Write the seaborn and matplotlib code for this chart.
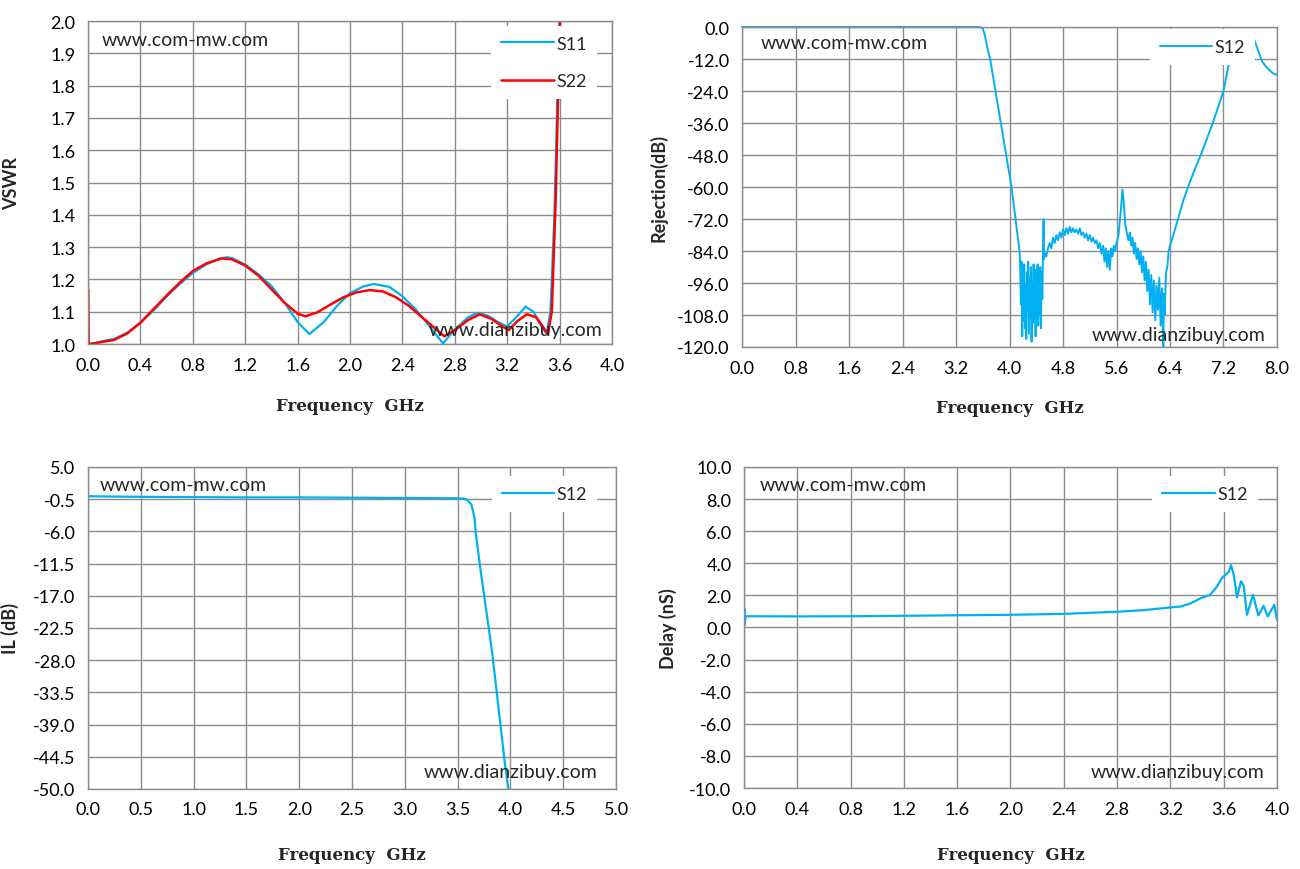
import numpy as np
import pandas as pd
import matplotlib
matplotlib.use("Agg")
import matplotlib.pyplot as plt
import seaborn as sns

# ---- VSWR (S11 / S22) ----
s11_f = [0.0, 0.05, 0.1, 0.2, 0.3, 0.4, 0.5, 0.6, 0.7, 0.8, 0.9, 1.0, 1.06, 1.1, 1.2,
         1.3, 1.4, 1.5, 1.6, 1.69, 1.8, 1.9, 2.0, 2.1, 2.18, 2.3, 2.4, 2.5, 2.6, 2.71,
         2.8, 2.9, 2.97, 3.05, 3.13, 3.2, 3.28, 3.34, 3.4, 3.46, 3.5, 3.53, 3.56, 3.58, 3.6]
s11_v = [1.000, 1.003, 1.008, 1.016, 1.035, 1.066, 1.104, 1.147, 1.186, 1.220, 1.246,
         1.264, 1.269, 1.266, 1.246, 1.216, 1.180, 1.128, 1.068, 1.031, 1.068, 1.118,
         1.158, 1.178, 1.186, 1.177, 1.148, 1.108, 1.058, 1.002, 1.045, 1.082, 1.097,
         1.088, 1.068, 1.054, 1.088, 1.116, 1.100, 1.055, 1.033, 1.10, 1.40, 1.72, 2.05]

s22_f = [0.0, 0.0, 0.003, 0.05, 0.1, 0.2, 0.3, 0.4, 0.5, 0.6, 0.7, 0.8, 0.9, 1.02, 1.1,
         1.2, 1.3, 1.4, 1.5, 1.6, 1.66, 1.75, 1.85, 1.95, 2.05, 2.15, 2.25, 2.35, 2.45,
         2.55, 2.65, 2.72, 2.8, 2.9, 2.99, 3.08, 3.15, 3.21, 3.28, 3.35, 3.42, 3.47,
         3.51, 3.54, 3.57, 3.59, 3.61]
s22_v = [1.0, 1.168, 1.0, 1.002, 1.006, 1.013, 1.033, 1.066, 1.108, 1.150, 1.190, 1.226,
         1.249, 1.265, 1.262, 1.243, 1.212, 1.170, 1.128, 1.094, 1.086, 1.098, 1.122,
         1.145, 1.160, 1.167, 1.163, 1.145, 1.118, 1.083, 1.048, 1.024, 1.043, 1.074,
         1.092, 1.078, 1.058, 1.043, 1.072, 1.092, 1.083, 1.055, 1.03, 1.10, 1.45, 1.80, 2.10]

# ---- Rejection S12 (0 - 8 GHz) ----
rej_f = [0.0, 3.55, 3.6, 3.63, 3.67, 3.71, 3.75, 3.79, 3.83, 3.87, 3.91, 3.95, 3.99,
         4.03, 4.06, 4.09, 4.12, 4.15,
         4.16, 4.17, 4.18, 4.19, 4.20, 4.21, 4.22, 4.23, 4.24, 4.25, 4.26, 4.27, 4.28,
         4.29, 4.30, 4.31, 4.32, 4.33, 4.34, 4.35, 4.36, 4.37, 4.38, 4.39, 4.40, 4.41,
         4.42, 4.43, 4.44, 4.45, 4.46, 4.47, 4.48, 4.49, 4.50,
         4.51, 4.515, 4.53, 4.55, 4.575, 4.6, 4.625, 4.65, 4.675, 4.7, 4.725, 4.75,
         4.775, 4.8, 4.825, 4.85, 4.875, 4.9, 4.925, 4.95, 4.975, 5.0, 5.025, 5.05,
         5.075, 5.1, 5.125, 5.15, 5.175, 5.2, 5.225, 5.25, 5.275, 5.3, 5.325, 5.35,
         5.375, 5.4, 5.42, 5.44, 5.46, 5.48, 5.5, 5.52, 5.54, 5.56, 5.58, 5.6, 5.63,
         5.66, 5.69, 5.71, 5.73, 5.76, 5.78, 5.8, 5.82, 5.84, 5.86, 5.88, 5.9, 5.92,
         5.94, 5.96, 5.98, 6.0, 6.02, 6.04, 6.06, 6.08, 6.1, 6.12, 6.14, 6.16, 6.18,
         6.2, 6.22, 6.24, 6.26, 6.28, 6.3, 6.31, 6.32, 6.34, 6.36, 6.38, 6.4,
         6.45, 6.52, 6.6, 6.67, 6.76, 6.86, 6.95, 7.04, 7.12, 7.2, 7.27, 7.35, 7.45,
         7.55, 7.65, 7.72, 7.78, 7.84, 7.9, 7.95, 8.0]
rej_v = [0.0, 0.0, -0.5, -3, -8, -12, -18, -24, -30, -36, -42, -48, -54,
         -60, -66, -72, -78, -84,
         -90, -104, -88, -116, -93, -110, -89, -113, -97, -117, -92, -106, -88,
         -115, -94, -109, -90, -118, -96, -104, -89, -111, -93, -116, -91, -103,
         -89, -112, -95, -108, -90, -113, -92, -102, -88,
         -72, -87, -85, -86, -83, -81, -83, -79, -81, -78, -80, -77,
         -79, -76, -78, -75.5, -77.5, -75, -77, -75.5, -77, -76, -77.5, -75.5,
         -78, -77, -79, -77.5, -80, -78, -80.5, -79, -81, -80, -83, -81,
         -85, -82, -88, -83, -90, -84, -91, -83, -86, -82, -84, -81, -78,
         -70, -61, -66, -74, -78, -80, -77, -82, -79, -85, -81, -87, -83,
         -89, -84, -92, -86, -95, -88, -99, -91, -104, -93, -107, -95, -110,
         -97, -106, -94, -112, -98, -120, -100, -108, -92, -90, -84, -82,
         -78, -72, -65, -60, -54, -48, -42, -36, -30, -24, -15, -9, -4,
         -1.5, -4, -9, -13, -15, -16.5, -17.5, -18]

# ---- Insertion loss S12 ----
il_f = [0.0, 0.5, 1.0, 1.5, 2.0, 2.5, 3.0, 3.5, 3.55, 3.59, 3.63, 3.66, 3.67, 3.71,
        3.75, 3.80, 3.83, 3.87, 3.91, 3.95, 3.98]
il_v = [0.0, -0.1, -0.15, -0.2, -0.2, -0.25, -0.3, -0.35, -0.4, -0.6, -1.4, -3.7,
        -6.0, -11.7, -16.9, -23.2, -27.2, -33.5, -39.8, -46.1, -50.0]

# ---- Group delay S12 ----
dly_f = [0.0, 0.003, 0.006, 0.01, 0.02, 0.4, 0.8, 1.2, 1.6, 2.0, 2.4, 2.8, 3.0, 3.2,
         3.28, 3.35, 3.43, 3.5, 3.55, 3.59, 3.61, 3.64, 3.655, 3.675, 3.7, 3.73, 3.75,
         3.775, 3.82, 3.86, 3.9, 3.93, 3.98, 4.0]
dly_v = [0.3, 1.2, 0.2, 0.6, 0.7, 0.69, 0.7, 0.73, 0.76, 0.79, 0.85, 0.98, 1.08, 1.25,
         1.31, 1.5, 1.83, 2.04, 2.56, 3.12, 3.25, 3.5, 3.88, 3.29, 1.88, 2.88, 2.6,
         0.79, 2.04, 0.75, 1.35, 0.69, 1.42, 0.48]

CYAN = "#00B0F0"
RED = "#FF0000"
GRID = "#8c8c8c"

sns.set_style("white")
plt.rcParams["font.family"] = ["Lato", "DejaVu Sans"]
plt.rcParams["axes.unicode_minus"] = False

fig = plt.figure(figsize=(13, 8.7), dpi=100)

ax1 = fig.add_axes([0.0677, 0.6034, 0.4031, 0.3713])
ax2 = fig.add_axes([0.5708, 0.6000, 0.4115, 0.3678])
ax3 = fig.add_axes([0.0677, 0.0920, 0.4062, 0.3701])
ax4 = fig.add_axes([0.5723, 0.0931, 0.4100, 0.3690])


def style_axes(ax, xlim, xstep, ylim, ystep, ylabel, ylab_x, xlab_y):
    ax.set_xlim(*xlim)
    ax.set_ylim(*ylim)
    ax.set_xticks(np.arange(xlim[0], xlim[1] + xstep / 2, xstep))
    ax.set_yticks(np.arange(ylim[0], ylim[1] + ystep / 2, ystep))
    ax.xaxis.set_major_formatter(matplotlib.ticker.FormatStrFormatter("%.1f"))
    ax.yaxis.set_major_formatter(matplotlib.ticker.FormatStrFormatter("%.1f"))
    ax.grid(True, color=GRID, linewidth=1.0)
    ax.set_axisbelow(True)
    for s in ax.spines.values():
        s.set_color(GRID)
        s.set_linewidth(1.0)
    ax.tick_params(axis="both", direction="out", length=4, width=1.0, color=GRID,
                   labelsize=13, labelcolor="black")
    ax.tick_params(axis="x", pad=5)
    ax.tick_params(axis="y", pad=5)
    ax.set_ylabel(ylabel, fontsize=13, fontweight="bold")
    ax.yaxis.set_label_coords(ylab_x, 0.5)
    ax.set_xlabel("Frequency  GHz", fontsize=12, fontweight="bold",
                  family=["DejaVu Serif"], va="top")
    ax.xaxis.set_label_coords(0.5, xlab_y)


def marks(ax, xy_top, xy_bot):
    ax.text(xy_top[0], xy_top[1], "www.com-mw.com", transform=ax.transAxes,
            fontsize=14, ha="left", va="center", zorder=6)
    ax.text(xy_bot[0], xy_bot[1], "www.dianzibuy.com", transform=ax.transAxes,
            fontsize=14, ha="right", va="center", zorder=6)


def legend(ax, anchor, spacing=0.3):
    lg = ax.legend(loc="upper right", bbox_to_anchor=anchor, frameon=True,
                   fancybox=False, framealpha=1, edgecolor="none", facecolor="white",
                   fontsize=13, handlelength=2.9, handletextpad=0.15,
                   labelspacing=spacing, borderpad=0.55, borderaxespad=0)
    lg.set_zorder(5)


# VSWR
sns.lineplot(x=s11_f, y=s11_v, ax=ax1, color=CYAN, linewidth=1.6, label="S11",
             estimator=None, sort=False)
sns.lineplot(x=s22_f, y=s22_v, ax=ax1, color=RED, linewidth=1.8, label="S22",
             estimator=None, sort=False)
style_axes(ax1, (0, 4.0), 0.4, (1.0, 2.0), 0.1, "VSWR", -0.13, -0.165)
marks(ax1, (0.027, 0.944), (0.981, 0.046))
legend(ax1, (0.971, 0.985), spacing=1.2)

# Rejection
sns.lineplot(x=rej_f, y=rej_v, ax=ax2, color=CYAN, linewidth=1.4, label="S12",
             estimator=None, sort=False)
ax2.lines[0].set_clip_on(False)
style_axes(ax2, (0, 8.0), 0.8, (-120, 0), 12, "Rejection(dB)", -0.14, -0.163)
marks(ax2, (0.034, 0.953), (0.979, 0.04))
legend(ax2, (0.959, 0.994))

# IL
sns.lineplot(x=il_f, y=il_v, ax=ax3, color=CYAN, linewidth=1.6, label="S12",
             estimator=None, sort=False)
style_axes(ax3, (0, 5.0), 0.5, (-50, 5), 5.5, "IL (dB)", -0.13, -0.177)
marks(ax3, (0.023, 0.947), (0.964, 0.053))
legend(ax3, (0.964, 0.972))

# Delay
sns.lineplot(x=dly_f, y=dly_v, ax=ax4, color=CYAN, linewidth=1.6, label="S12",
             estimator=None, sort=False)
style_axes(ax4, (0, 4.0), 0.4, (-10, 10), 2, "Delay (nS)", -0.126, -0.18)
marks(ax4, (0.03, 0.944), (0.977, 0.05))
legend(ax4, (0.964, 0.972))

fig.savefig("out.png", dpi=100, facecolor="white")
